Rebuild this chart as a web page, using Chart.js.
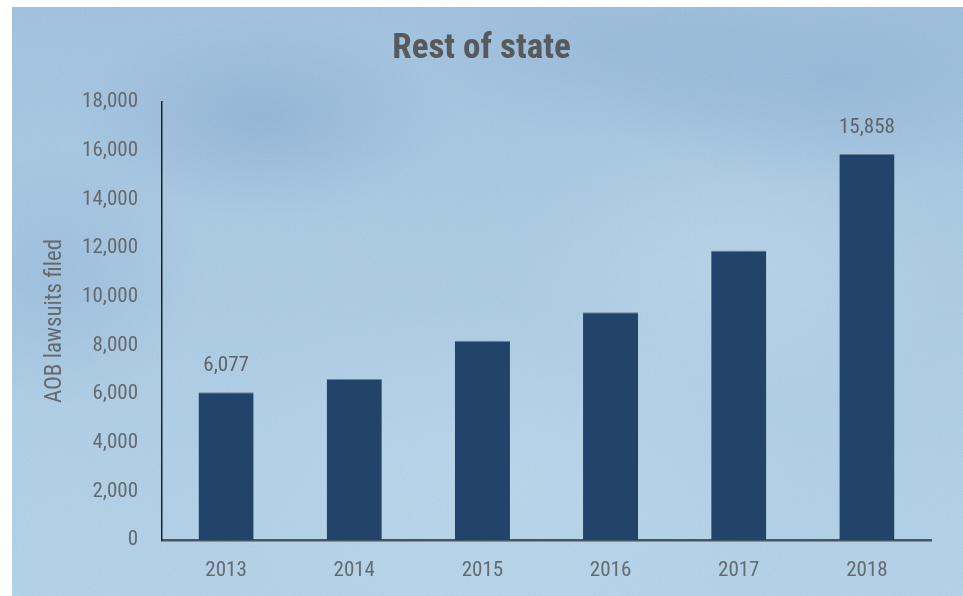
<!DOCTYPE html>
<html>
<head>
<meta charset="utf-8">
<script src="https://cdn.jsdelivr.net/npm/chart.js@4.4.1/dist/chart.umd.min.js"></script>
<style>
  html, body { margin: 0; padding: 0; background: #fff; }
  #wrap { position: relative; width: 963px; height: 596px; overflow: hidden; }
  #paper {
    position: absolute; left: 12px; top: 7px; right: 0; bottom: 0;
    background:
      radial-gradient(ellipse 190px 100px at 250px 110px, rgba(125,160,205,0.45), rgba(125,160,205,0) 100%),
      radial-gradient(ellipse 150px 130px at 40px 270px, rgba(130,168,208,0.35), rgba(130,168,208,0) 100%),
      radial-gradient(ellipse 260px 110px at 830px 70px, rgba(128,165,206,0.4), rgba(128,165,206,0) 100%),
      radial-gradient(ellipse 220px 150px at 720px 260px, rgba(195,222,240,0.45), rgba(195,222,240,0) 100%),
      radial-gradient(ellipse 320px 170px at 480px 470px, rgba(192,220,240,0.5), rgba(192,220,240,0) 100%),
      radial-gradient(ellipse 200px 90px at 600px 40px, rgba(135,170,210,0.35), rgba(135,170,210,0) 100%),
      linear-gradient(180deg, #9fc2e0 0%, #a9cbe5 40%, #b2d3ea 100%);
  }
  #grain {
    position: absolute; left: 12px; top: 7px; right: 0; bottom: 0; opacity: 0.15;
    background-image: url("data:image/svg+xml;utf8,<svg xmlns='http://www.w3.org/2000/svg' width='300' height='300'><filter id='n'><feTurbulence type='fractalNoise' baseFrequency='0.9' numOctaves='2'/><feColorMatrix type='saturate' values='0'/></filter><rect width='100%' height='100%' filter='url(%23n)'/></svg>");
  }
  #title {
    position: absolute; left: 0; width: 963px; top: 26px; text-align: center;
    font-family: 'Liberation Sans Narrow', 'Roboto Condensed', Roboto, sans-serif;
    font-weight: bold; font-size: 35px; line-height: 42px; color: #58595b;
  }
  canvas { position: absolute; left: 0; top: 0; }
</style>
</head>
<body>
<div id="wrap">
  <div id="paper"></div>
  <div id="grain"></div>
  <canvas id="chart" width="963" height="596"></canvas>
  <div id="title">Rest of state</div>
</div>
<script>
const years = ['2013', '2014', '2015', '2016', '2017', '2018'];
const lawsuits = [6077, 6620, 8190, 9360, 11900, 15858];
const labeledYears = ['2013', '2018'];

const fontFamily = "'Liberation Sans Narrow', 'Roboto Condensed', Roboto, sans-serif";

// 값 라벨 (첫 해와 마지막 해만)
const valueLabels = {
    id: 'valueLabels',
    afterDatasetsDraw(chart) {
        const ctx = chart.ctx;
        const meta = chart.getDatasetMeta(0);
        ctx.save();
        ctx.font = '21px ' + fontFamily;
        ctx.fillStyle = '#5f6468';
        ctx.textAlign = 'center';
        ctx.textBaseline = 'middle';
        meta.data.forEach((bar, i) => {
            if (!labeledYears.includes(years[i])) return;
            ctx.fillText(lawsuits[i].toLocaleString('en-US'), bar.x, bar.y - 26);
        });
        ctx.restore();
    }
};

new Chart(document.getElementById('chart'), {
    type: 'bar',
    data: {
        labels: years,
        datasets: [{
            data: lawsuits,
            backgroundColor: '#23446a',
            borderColor: 'rgba(90,110,130,0.8)',
            borderWidth: { top: 1, left: 0, right: 0, bottom: 0 },
            barPercentage: 0.43,
            categoryPercentage: 1
        }]
    },
    options: {
        responsive: false,
        animation: false,
        layout: { padding: { left: 0, right: 32, top: 102, bottom: 0 } },
        plugins: {
            legend: { display: false },
            tooltip: { enabled: false },
            title: { display: false }
        },
        scales: {
            x: {
                grid: { display: false, drawTicks: false },
                border: { color: '#4a5561', width: 2.5 },
                ticks: { color: '#666a6e', font: { family: fontFamily, size: 21 }, padding: 18 },
                afterFit(scale) { scale.height = 56; }
            },
            y: {
                min: 0,
                max: 18000,
                grid: { display: false, drawTicks: false },
                border: { color: '#1e2226', width: 1.5 },
                ticks: {
                    stepSize: 2000,
                    color: '#666a6e',
                    font: { family: fontFamily, size: 21 },
                    padding: 24,
                    callback: v => v.toLocaleString('en-US')
                },
                title: {
                    display: true,
                    text: 'AOB lawsuits filed',
                    color: '#666a6e',
                    font: { family: fontFamily, size: 23 },
                    padding: { top: 41 }
                },
                afterFit(scale) { scale.width = 162; }
            }
        }
    },
    plugins: [valueLabels]
});
</script>
</body>
</html>
